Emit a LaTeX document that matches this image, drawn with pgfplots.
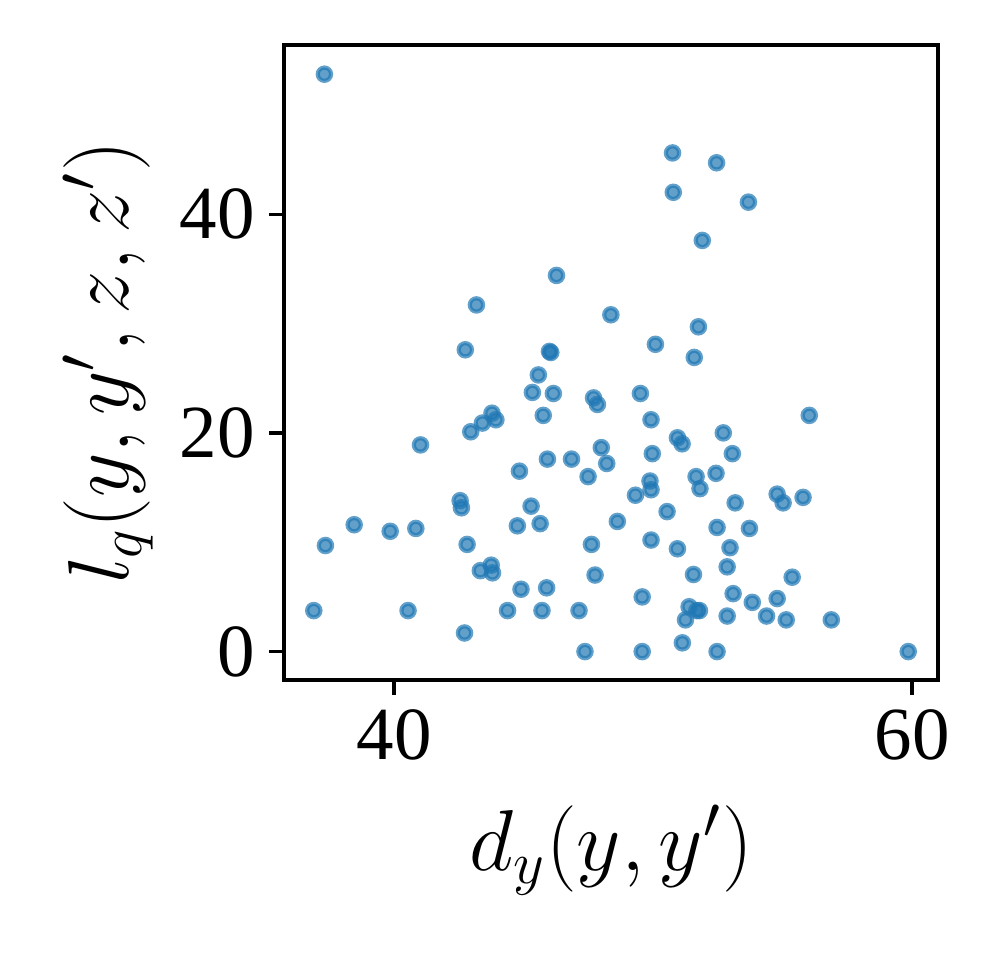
\documentclass[border=0pt]{standalone}
\usepackage{fontspec}
\setmainfont{Liberation Serif}
\usepackage{pgfplots}
\pgfplotsset{compat=1.18}
\definecolor{tabblue}{HTML}{1F77B4}

\begin{document}
\begin{tikzpicture}
\begin{axis}[name=main, scale only axis, width=156.96pt, height=152.4pt,
  xmin=35.75, xmax=61.0, ymin=-2.6, ymax=55.47,
  xtick={40,60}, ytick={0,20,40}, minor tick num=0,
  tick pos=left, tick align=outside, major tick length=3.5pt,
  tick style={line width=0.8pt, black},
  axis line style={line width=0.8pt},
  /pgf/number format/assume math mode=true,
  tick label style={font=\fontsize{18}{21}\selectfont},
  label style={font=\fontsize{21}{25}\selectfont},
  xlabel={$d_y(y,y')$}, ylabel={$l_q(y,y',z,z')$},
  xlabel style={at={(axis description cs:0.5,-0.2677)}, anchor=center},
  ylabel style={at={(axis description cs:-0.2689,0.5)}, anchor=center},
]
\addplot[only marks, mark=*, mark size=1.6pt, color=tabblue,
  mark options={line width=1pt, fill opacity=0.7, draw opacity=0.7}] table {
x y
37.31 52.8
46.27 34.4
43.18 31.7
48.37 30.8
42.75 27.6
46.00 27.45
46.05 27.35
45.57 25.3
50.75 45.6
52.45 44.7
50.78 42.0
53.68 41.1
51.90 37.6
51.75 29.7
50.09 28.1
51.59 26.9
45.34 23.7
46.15 23.6
47.70 23.2
47.85 22.6
45.76 21.6
43.78 21.8
43.93 21.2
43.41 20.9
42.96 20.1
41.02 18.9
48.00 18.65
45.92 17.6
46.85 17.6
48.21 17.2
44.84 16.5
47.49 16.0
42.55 13.8
42.60 13.15
45.29 13.3
44.76 11.5
45.64 11.7
48.62 11.9
38.46 11.6
39.85 11.0
40.84 11.26
37.35 9.7
42.82 9.8
47.62 9.8
43.33 7.4
43.75 7.9
43.80 7.2
47.76 7.0
44.90 5.7
45.89 5.83
36.90 3.75
40.54 3.75
44.38 3.75
45.71 3.75
47.14 3.75
42.72 1.7
47.37 0.0
49.51 23.6
49.92 21.2
56.03 21.6
50.94 19.55
51.12 19.0
52.71 20.0
49.97 18.1
53.06 18.1
51.66 16.0
52.43 16.3
51.81 14.9
49.88 15.6
49.92 14.8
49.32 14.3
54.79 14.4
55.02 13.6
55.79 14.1
53.17 13.6
50.54 12.8
52.47 11.35
53.72 11.26
49.92 10.2
50.94 9.4
52.97 9.5
52.86 7.75
51.56 7.05
55.37 6.8
49.58 5.0
53.09 5.3
53.83 4.5
54.79 4.85
51.39 4.1
51.69 3.75
51.79 3.75
51.25 2.9
52.86 3.25
54.38 3.25
55.14 2.9
56.88 2.9
51.13 0.8
49.58 0.0
52.47 0.0
59.85 0.0
};
\end{axis}
\pgfresetboundingbox
\path ([xshift=-68.16pt,yshift=-67.2pt]main.south west) rectangle ([xshift=12.48pt,yshift=10.8pt]main.north east);
\end{tikzpicture}
\end{document}
